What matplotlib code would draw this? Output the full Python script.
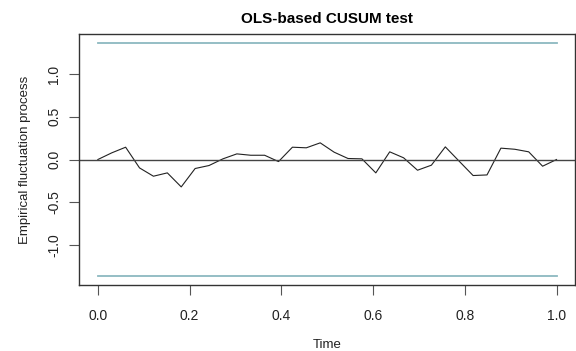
import numpy as np
import matplotlib
matplotlib.use("Agg")
import matplotlib.pyplot as plt

plt.rcParams['font.family'] = ['Liberation Sans', 'DejaVu Sans']

# Empirical fluctuation process values (equally spaced in time 0..1)
process = [0.0, 0.078, 0.144, -0.098, -0.195, -0.156, -0.32, -0.105, -0.07, 0.008,
           0.066, 0.05, 0.05, -0.024, 0.144, 0.137, 0.195, 0.086, 0.012, 0.008,
           -0.156, 0.09, 0.02, -0.125, -0.066, 0.148, -0.02, -0.187, -0.18, 0.133,
           0.12, 0.09, -0.078, 0.0]
time = np.linspace(0, 1, len(process))
boundary = 1.358
xticks = [0.0, 0.2, 0.4, 0.6, 0.8, 1.0]
yticks = [-1.0, -0.5, 0.0, 0.5, 1.0]

fig = plt.figure(figsize=(5.76, 3.51), dpi=100)
ax = fig.add_axes([0.138, 0.188, 0.860, 0.715])

ax.plot(time, process, color='#222222', lw=0.8)
ax.axhline(0, color='#444444', lw=1.0)
ax.plot([0, 1], [boundary, boundary], color='#8cb9c0', lw=1.3)
ax.plot([0, 1], [-boundary, -boundary], color='#8cb9c0', lw=1.3)

ax.set_xlim(-0.04, 1.04)
ax.set_ylim(-boundary * 1.08, boundary * 1.08)
ax.set_xticks(xticks)
ax.set_xticklabels([f"{v:.1f}" for v in xticks])
ax.set_yticks(yticks)
ax.set_yticklabels([f"{v:.1f}" for v in yticks], rotation=90, va='center')
ax.tick_params(direction='out', length=7, width=0.8, color='#555555',
               labelsize=10, labelcolor='#222222')
ax.tick_params(axis='x', pad=10)
ax.tick_params(axis='y', pad=6)
for s in ax.spines.values():
    s.set_color('#333333')
    s.set_linewidth(1.0)

ax.set_title("OLS-based CUSUM test", fontsize=11, fontweight='bold', pad=8)
ax.set_xlabel("Time", fontsize=9.5, color='#222222', labelpad=12)
ax.set_ylabel("Empirical fluctuation process", fontsize=9.5, color='#222222', labelpad=12)

fig.savefig("out.png", dpi=100)
